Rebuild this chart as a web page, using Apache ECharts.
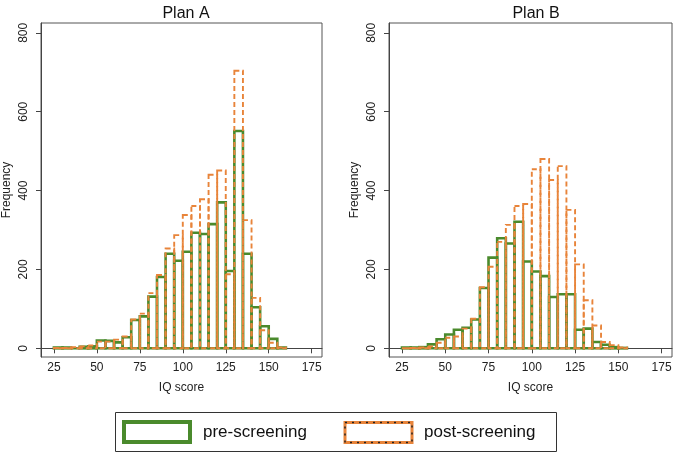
<!DOCTYPE html>
<html>
<head>
<meta charset="utf-8">
<script src="https://cdn.jsdelivr.net/npm/echarts@6/dist/echarts.min.js"></script>
<style>
html,body{margin:0;padding:0;background:#fff;}
#chart{width:677px;height:455px;}
</style>
</head>
<body>
<div id="chart"></div>
<script>
// ---- data ----
const binWidth = 5;
const binStartsA = [25,30,35,40,45,50,55,60,65,70,75,80,85,90,95,100,105,110,115,120,125,130,135,140,145,150,155];
const preA  = [2,2,0,4,5,20,19,15,28,72,81,131,181,240,222,245,293,290,315,370,196,551,240,104,56,24,2];
const postA = [1,1,3,5,7,17,17,22,30,73,88,140,186,253,287,338,361,378,440,451,188,704,325,128,46,14,2];

const binStartsB = [25,30,35,40,45,50,55,60,65,70,75,80,85,90,95,100,105,110,115,120,125,130,135,140,145,150];
const preB  = [2,2,3,10,23,35,47,52,73,153,230,279,266,321,220,195,183,130,137,137,47,50,16,9,3,1];
const postB = [0,1,2,5,14,27,30,50,75,155,207,270,313,361,366,454,480,427,462,351,213,122,58,16,8,2];

const xTicks = [25,50,75,100,125,150,175];
const yTicks = [0,200,400,600,800];
const panelTitles = ['Plan A','Plan B'];
const seriesNames = ['pre-screening','post-screening'];

// ---- style ----
const GREEN = '#4a8a2c';
const ORANGE = '#e8843a';
const FONT = 'Liberation Sans, Arial, Helvetica, sans-serif';

function toData(starts, vals){
  return starts.map((s,i)=>[s, s+binWidth, vals[i]]);
}

function makeRender(kind){
  return function(params, api){
    const x0 = api.value(0), x1 = api.value(1), v = api.value(2);
    const p0 = api.coord([x0, v]);
    const p1 = api.coord([x1, 0]);
    const style = kind === 'pre'
      ? {fill:'none', stroke:GREEN, lineWidth:2.6}
      : {fill:'none', stroke:ORANGE, lineWidth:1.9, lineDash:[5,3]};
    return {
      type:'rect',
      shape:{x:p0[0], y:p0[1], width:p1[0]-p0[0], height:p1[1]-p0[1]},
      style: style
    };
  };
}

const grids = [
  {left:40, top:23, width:282, height:334, show:true, borderColor:'#555', borderWidth:1},
  {left:389, top:23, width:283, height:334, show:true, borderColor:'#555', borderWidth:1}
];

function xAxis(idx){
  return {
    type:'value', gridIndex:idx, min:17.5, max:181,
    name:'IQ score', nameLocation:'middle', nameGap:25,
    nameTextStyle:{color:'#222', fontSize:12, fontFamily:FONT},
    axisLine:{show:true, lineStyle:{color:'#444', width:1}},
    axisTick:{show:true, length:5, lineStyle:{color:'#444'}, customValues:xTicks},
    axisLabel:{color:'#222', fontSize:12, fontFamily:FONT, margin:5, customValues:xTicks},
    splitLine:{show:false}
  };
}
function yAxis(idx){
  return {
    type:'value', gridIndex:idx, min:-22, max:825,
    name:'Frequency', nameLocation:'middle', nameGap:28, nameRotate:90,
    nameTextStyle:{color:'#222', fontSize:12, fontFamily:FONT},
    axisLine:{show:true, lineStyle:{color:'#444', width:1}},
    axisTick:{show:true, length:5, lineStyle:{color:'#444'}, customValues:yTicks},
    axisLabel:{color:'#222', fontSize:12, fontFamily:FONT, margin:11, rotate:90, customValues:yTicks},
    splitLine:{show:false}
  };
}

const option = {
  animation:false,
  backgroundColor:'#fff',
  title:[
    {text:panelTitles[0], left:181, top:1, textAlign:'center', textStyle:{fontSize:16, fontWeight:'normal', color:'#111', fontFamily:FONT}},
    {text:panelTitles[1], left:531, top:1, textAlign:'center', textStyle:{fontSize:16, fontWeight:'normal', color:'#111', fontFamily:FONT}}
  ],
  grid:grids,
  xAxis:[xAxis(0), xAxis(1)],
  yAxis:[yAxis(0), yAxis(1)],
  series:[
    {name:seriesNames[0], type:'custom', xAxisIndex:0, yAxisIndex:0, renderItem:makeRender('pre'), data:toData(binStartsA, preA), encode:{x:[0,1], y:2}},
    {name:seriesNames[1], type:'custom', xAxisIndex:0, yAxisIndex:0, renderItem:makeRender('post'), data:toData(binStartsA, postA), encode:{x:[0,1], y:2}},
    {name:seriesNames[0], type:'custom', xAxisIndex:1, yAxisIndex:1, renderItem:makeRender('pre'), data:toData(binStartsB, preB), encode:{x:[0,1], y:2}},
    {name:seriesNames[1], type:'custom', xAxisIndex:1, yAxisIndex:1, renderItem:makeRender('post'), data:toData(binStartsB, postB), encode:{x:[0,1], y:2}}
  ],
  graphic:[
    {type:'rect', shape:{x:115.5, y:412.5, width:441, height:39}, style:{fill:'#fff', stroke:'#333', lineWidth:1}},
    {type:'rect', shape:{x:124, y:422, width:66, height:20}, style:{fill:'#fff', stroke:GREEN, lineWidth:4}},
    {type:'text', x:203, y:432, style:{text:seriesNames[0], fontSize:17, fontFamily:FONT, fill:'#111', verticalAlign:'middle'}},
    {type:'rect', shape:{x:345, y:422.5, width:67, height:20}, style:{fill:'#fff', stroke:ORANGE, lineWidth:3}},
    {type:'rect', shape:{x:345, y:422.5, width:67, height:20}, style:{fill:'none', stroke:'#222', lineWidth:1.5, lineDash:[2,5]}},
    {type:'text', x:424, y:432, style:{text:seriesNames[1], fontSize:17, fontFamily:FONT, fill:'#111', verticalAlign:'middle'}}
  ]
};

const chart = echarts.init(document.getElementById('chart'), null, {renderer:'canvas'});
chart.setOption(option);
</script>
</body>
</html>
